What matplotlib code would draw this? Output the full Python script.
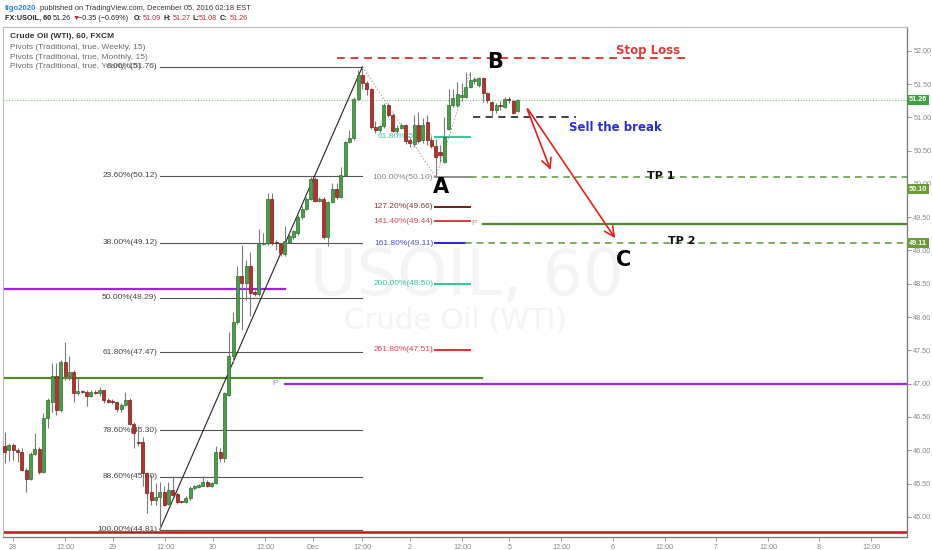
import matplotlib
matplotlib.use("Agg")
import matplotlib.pyplot as plt
import numpy as np

W, H = 932, 550

# hourly candles, FX:USOIL
OPEN = [
    46.06, 46.00, 46.08, 46.01, 45.98, 45.71, 45.57, 45.95, 46.02, 45.67,
    46.48, 46.73, 47.11, 46.61, 47.33, 47.11, 47.18, 46.86, 46.89, 46.88,
    46.82, 46.88, 46.86, 46.90, 46.76, 46.74, 46.73, 46.62, 46.68, 46.76,
    46.39, 46.13, 46.12, 45.66, 45.38, 45.25, 45.30, 45.38, 45.20, 45.40,
    45.34, 45.23, 45.23, 45.28, 45.43, 45.45, 45.47, 45.53, 45.46, 45.51,
    45.97, 45.88, 46.83, 47.41, 47.93, 48.62, 48.51, 48.76, 48.37, 48.34,
    49.10, 49.12, 49.78, 49.13, 49.10, 48.95, 49.13, 49.20, 49.27, 49.51,
    49.63, 49.78, 50.08, 49.75, 49.78, 49.21, 49.73, 49.92, 49.81, 50.13,
    50.63, 50.69, 51.28, 51.63, 51.51, 51.43, 50.86, 50.81, 50.87, 51.18,
    51.03, 50.79, 50.84, 50.88, 50.66, 50.60, 50.88, 50.66, 50.93, 50.66,
    50.57, 50.48, 50.33, 50.83, 51.18, 51.19, 51.30, 51.31, 51.46, 51.55,
    51.48, 51.59, 51.36, 51.23, 51.11, 51.19, 51.16, 51.27, 51.24, 51.09,
]
HIGH = [
    46.28, 46.11, 46.11, 46.04, 46.03, 45.73, 45.97, 46.26, 46.05, 46.56,
    46.78, 47.31, 47.31, 47.36, 47.62, 47.42, 47.21, 47.08, 46.91, 46.91,
    46.90, 46.90, 46.95, 46.91, 46.78, 46.77, 46.74, 46.71, 46.88, 46.78,
    46.42, 46.36, 46.20, 45.68, 45.63, 45.51, 45.53, 45.46, 45.53, 45.61,
    45.38, 45.24, 45.31, 45.46, 45.48, 45.50, 45.62, 45.55, 45.52, 46.06,
    46.03, 46.88, 47.78, 48.08, 48.76, 49.08, 48.86, 48.98, 48.41, 49.33,
    49.26, 49.86, 49.87, 49.16, 49.12, 49.37, 49.26, 49.31, 49.53, 49.67,
    49.81, 50.11, 50.11, 49.81, 49.81, 49.75, 50.02, 50.02, 50.26, 50.64,
    50.81, 51.30, 51.71, 51.76, 51.54, 51.44, 50.94, 50.88, 51.21, 51.21,
    51.06, 50.88, 50.91, 50.90, 50.69, 51.03, 51.08, 50.99, 51.04, 50.70,
    50.68, 50.58, 51.01, 51.43, 51.43, 51.53, 51.51, 51.68, 51.68, 51.60,
    51.61, 51.61, 51.38, 51.24, 51.21, 51.24, 51.31, 51.31, 51.26, 51.27,
]
LOW = [
    45.81, 45.84, 45.86, 45.83, 45.69, 45.37, 45.55, 45.93, 45.65, 45.66,
    46.33, 46.58, 46.53, 46.58, 47.06, 47.06, 46.73, 46.83, 46.86, 46.67,
    46.80, 46.84, 46.82, 46.71, 46.71, 46.69, 46.58, 46.58, 46.66, 46.38,
    46.03, 46.06, 45.46, 45.06, 45.18, 45.18, 44.81, 45.16, 45.18, 45.31,
    45.20, 45.21, 45.21, 45.26, 45.41, 45.44, 45.46, 45.45, 45.45, 45.50,
    45.83, 45.82, 46.81, 47.31, 47.90, 47.81, 48.26, 48.01, 48.31, 48.31,
    49.09, 49.09, 49.09, 49.01, 48.91, 48.91, 49.11, 49.17, 49.23, 49.48,
    49.61, 49.76, 49.73, 49.73, 49.18, 49.07, 49.71, 49.78, 49.79, 50.12,
    50.61, 50.66, 51.26, 51.43, 51.33, 50.82, 50.76, 50.78, 50.84, 51.01,
    50.78, 50.77, 50.82, 50.60, 50.56, 50.56, 50.62, 50.62, 50.59, 50.54,
    50.10, 50.33, 50.31, 50.81, 51.16, 51.16, 51.24, 51.29, 51.44, 51.50,
    51.46, 51.23, 51.21, 51.01, 51.06, 51.11, 51.14, 51.21, 51.05, 51.08,
]
CLOSE = [
    45.98, 46.08, 46.00, 45.98, 45.71, 45.57, 45.95, 46.02, 45.67, 46.48,
    46.75, 47.11, 46.61, 47.33, 47.11, 47.18, 46.86, 46.89, 46.88, 46.82,
    46.88, 46.86, 46.91, 46.75, 46.73, 46.72, 46.62, 46.68, 46.76, 46.39,
    46.26, 46.11, 45.66, 45.36, 45.25, 45.30, 45.38, 45.18, 45.40, 45.33,
    45.22, 45.22, 45.28, 45.43, 45.46, 45.48, 45.53, 45.46, 45.51, 45.98,
    45.88, 46.86, 47.41, 47.93, 48.62, 48.51, 48.76, 48.36, 48.34, 49.10,
    49.12, 49.78, 49.12, 49.11, 48.96, 49.15, 49.22, 49.29, 49.51, 49.63,
    49.78, 50.08, 49.75, 49.78, 49.21, 49.73, 49.92, 49.81, 50.13, 50.63,
    50.69, 51.28, 51.63, 51.51, 51.43, 50.86, 50.81, 50.87, 51.18, 51.03,
    50.79, 50.84, 50.88, 50.64, 50.62, 50.88, 50.64, 50.88, 50.66, 50.57,
    50.41, 50.43, 50.71, 51.18, 51.29, 51.35, 51.33, 51.46, 51.56, 51.58,
    51.59, 51.36, 51.26, 51.11, 51.18, 51.17, 51.28, 51.26, 51.06, 51.26,
]

# time axis (bar units)
X_TICKS = [1.9, 14.0, 25.1, 37.2, 48.3, 60.4, 71.5, 83.0, 94.0, 106.1,
           117.1, 129.1, 141.1, 153.1, 165.0, 177.1, 188.9, 201.0]
X_LABELS = ["28", "12:00", "29", "12:00", "30", "12:00", "Dec", "12:00", "2", "12:00",
            "5", "12:00", "6", "12:00", "7", "12:00", "8", "12:00"]
Y_TICKS = [45.0, 45.5, 46.0, 46.5, 47.0, 47.5, 48.0, 48.5, 49.0, 49.5, 50.0, 50.5, 51.0, 51.5, 52.0]

# fib retracement 44.81 -> 51.76
FIB1_LABELS = ["0.00%(51.76)", "23.60%(50.12)", "38.00%(49.12)", "50.00%(48.29)",
               "61.80%(47.47)", "78.60%(46.30)", "88.60%(45.60)", "100.00%(44.81)"]
FIB1_LEVELS = [51.76, 50.12, 49.12, 48.29, 47.47, 46.30, 45.60, 44.81]

# fib extension B -> A
FIB2_LABELS = ["61.80%(50.71)", "100.00%(50.10)", "127.20%(49.66)", "141.40%(49.44)",
               "161.80%(49.11)", "200.00%(48.50)", "261.80%(47.51)"]
FIB2_LEVELS = [50.71, 50.10, 49.66, 49.44, 49.11, 48.50, 47.51]
FIB2_COLORS = ["#2fc89b", "#8c8c8c", "#6b1f1f", "#e03a3a", "#2323d8", "#2fc89b", "#ee2a2a"]
FIB2_TEXT = ["#3cc8a0", "#8a8a8a", "#7a4040", "#d84a5a", "#5050d0", "#30c8a0", "#e84050"]

LAST_PRICE = 51.26
STOP_LOSS = 51.89
BREAK_LEVEL = 51.00
TP1 = 50.10
TP2 = 49.11
WEEKLY_P = 49.40
MONTHLY_P = 47.00
PIVOT_PURPLE_OLD = 48.42
PIVOT_GREEN_OLD = 47.09
YEARLY_LINE = 44.78

UP, UP_EDGE = "#46a046", "#2c6e2c"
DOWN, DOWN_EDGE = "#b8302a", "#7a1c18"
GREEN_LINE = "#4f8a2c"
DASH_GREEN = "#6aa048"
PURPLE = "#a020f0"
SMALL = ["Liberation Sans", "DejaVu Sans"]
BOLD = ["DejaVu Sans"]

plt.rcParams["font.family"] = SMALL

fig = plt.figure(figsize=(W / 100, H / 100), dpi=100)
fig.patch.set_facecolor("white")
ax = fig.add_axes([3 / W, 1 - 537 / H, 904 / W, 510 / H])
ax.set_xlim(-0.39, 209.35)
ax.set_ylim(44.698, 52.356)

o = np.array(OPEN)
h = np.array(HIGH)
l = np.array(LOW)
c = np.array(CLOSE)
idx = np.arange(len(o))
up = c >= o

# watermark
ax.text(0.513, 0.51, "USOIL, 60", transform=ax.transAxes, ha="center", va="center",
        fontsize=46, color="#f4f4f4", zorder=0, family=BOLD)
ax.text(0.5, 0.425, "Crude Oil (WTI)", transform=ax.transAxes, ha="center", va="center",
        fontsize=21, color="#f4f4f4", zorder=0, family=BOLD)

# horizontal pivots
end = ax.get_xlim()[1]
ax.axhline(LAST_PRICE, color="#7cc47c", lw=0.8, ls=(0, (1, 1.5)), zorder=1)
ax.axhline(YEARLY_LINE, color="#c01818", lw=1.8, zorder=2)
ax.plot([-0.4, 110.7], [PIVOT_GREEN_OLD] * 2, color=GREEN_LINE, lw=1.6, zorder=2)
ax.plot([-0.4, 65.0], [PIVOT_PURPLE_OLD] * 2, color=PURPLE, lw=1.6, zorder=2)
ax.plot([65.0, end], [MONTHLY_P] * 2, color=PURPLE, lw=1.6, zorder=2)
ax.text(62.7, MONTHLY_P, "P", color="#9a7ad8", fontsize=6, ha="center", va="center")
ax.plot([111.0, end], [WEEKLY_P] * 2, color=GREEN_LINE, lw=1.6, zorder=2)
ax.text(108.9, WEEKLY_P, "P", color="#999999", fontsize=6, ha="center", va="center")

# fib retracement
i_lo = int(np.argmin(l))
i_hi = int(np.argmax(h))
ax.plot([i_lo, i_hi], [l[i_lo], h[i_hi]], color="#222222", lw=0.8, zorder=3)
for lab, lev in zip(FIB1_LABELS, FIB1_LEVELS):
    ax.plot([i_lo, i_hi], [lev, lev], color="#555555", lw=0.8, zorder=2)
    ax.text(i_lo - 0.6, lev, lab, ha="right", va="center", fontsize=6, color="#444444", zorder=3)

# fib extension
i_a = 100
ax.plot([i_hi, i_a], [h[i_hi], l[i_a]], color="#999999", lw=0.6, ls=(0, (2, 2)), zorder=3)
ax.plot([i_a, 108], [l[i_a], 51.68], color="#999999", lw=0.6, ls=(0, (2, 2)), zorder=3)
for lab, lev, col, tcol in zip(FIB2_LABELS, FIB2_LEVELS, FIB2_COLORS, FIB2_TEXT):
    x_end = 106.8 if lev == TP2 else 108.0
    ax.plot([i_a - 0.2, x_end], [lev, lev], color=col, lw=1.4, zorder=2)
    ax.text(i_a - 0.6, lev, lab, ha="right", va="center", fontsize=6, color=tcol, zorder=3)

# trade plan
ax.plot([77.1, 159.0], [STOP_LOSS] * 2, color="#e53935", lw=1.4, ls=(0, (4, 3)), zorder=2)
ax.text(149.3, STOP_LOSS + 0.02, "Stop Loss", color="#e53935", fontsize=8.5,
        fontweight="bold", ha="center", va="bottom", family=BOLD)
ax.plot([108.7, 132.6], [BREAK_LEVEL] * 2, color="#333333", lw=1.3, ls=(0, (4, 3)), zorder=2)
ax.text(141.8, 50.84, "Sell the break", color="#2a2ad8", fontsize=8.5,
        fontweight="bold", ha="center", va="center", family=BOLD)
ax.plot([108.0, end], [TP1] * 2, color=DASH_GREEN, lw=1.2, ls=(0, (4, 3)), zorder=2)
ax.plot([106.8, end], [TP2] * 2, color=DASH_GREEN, lw=1.2, ls=(0, (4, 3)), zorder=2)
ax.text(152.3, TP1 + 0.02, "TP 1", color="#111111", fontsize=8, fontweight="bold",
        ha="center", va="center", family=BOLD)
ax.text(157.2, TP2 + 0.03, "TP 2", color="#111111", fontsize=8, fontweight="bold",
        ha="center", va="center", family=BOLD)
for x_end, y_end in [(126.9, 50.17), (142.0, 49.15)]:
    ax.annotate("", xy=(x_end, y_end), xytext=(121.0, 51.16),
                arrowprops=dict(arrowstyle="->,head_length=0.7,head_width=0.35",
                                color="#e02020", lw=1.2))
ax.text(101.2, 49.95, "A", fontsize=15, fontweight="bold", ha="center", va="center", family=BOLD)
ax.text(113.8, 51.83, "B", fontsize=15, fontweight="bold", ha="center", va="center", family=BOLD)
ax.text(143.7, 48.86, "C", fontsize=15, fontweight="bold", ha="center", va="center", family=BOLD)

# candles
ax.vlines(idx, l, h, color="#7a7a7a", lw=0.8, zorder=4)
bottom = np.minimum(o, c)
height = np.maximum(np.abs(c - o), 0.015)
ax.bar(idx[up], height[up], bottom=bottom[up], width=0.7, color=UP,
       edgecolor=UP_EDGE, linewidth=0.5, zorder=5)
ax.bar(idx[~up], height[~up], bottom=bottom[~up], width=0.7, color=DOWN,
       edgecolor=DOWN_EDGE, linewidth=0.5, zorder=5)

# axes
ax.yaxis.tick_right()
ax.set_yticks(Y_TICKS)
ax.set_yticklabels([f"{v:.2f}" for v in Y_TICKS])
ax.set_xticks(X_TICKS)
ax.set_xticklabels(X_LABELS)
ax.tick_params(axis="both", labelsize=5.2, colors="#888888", length=3, width=0.6, pad=2)
ax.tick_params(axis="y", pad=1.5)
for side in ["top", "left"]:
    ax.spines[side].set_color("#bbbbbb")
    ax.spines[side].set_linewidth(0.8)
for side in ["right", "bottom"]:
    ax.spines[side].set_color("#777777")
    ax.spines[side].set_linewidth(0.9)

# price labels on scale
for price, col, dy in [(LAST_PRICE, "#3fa33f", 0), (TP1, "#6a9c3a", -8.5), (TP2, "#6a9c3a", 0)]:
    ax.annotate(f"{price:.2f}", xy=(1, price), xycoords=ax.get_yaxis_transform(),
                xytext=(1.5, dy), textcoords="offset points", ha="left", va="center",
                fontsize=5.2, color="white", fontweight="bold",
                bbox=dict(boxstyle="square,pad=0.25", facecolor=col, edgecolor="none"),
                annotation_clip=False)

# legend in chart
fig.text(10 / W, 1 - 37 / H, "Crude Oil (WTI), 60, FXCM", fontsize=6, fontweight="bold",
         color="#333333", va="center")
for k, txt in enumerate(["Pivots (Traditional, true, Weekly, 15)",
                         "Pivots (Traditional, true, Monthly, 15)",
                         "Pivots (Traditional, true, Yearly, 15)"]):
    fig.text(10 / W, 1 - (47.5 + 9.7 * k) / H, txt, fontsize=6, color="#6a6a6a", va="center")

# header
fig.text(4.7 / W, 1 - 8 / H, "tigo2020", fontsize=5.6, color="#2d86c4", fontweight="bold", va="center")
fig.text(40.5 / W, 1 - 8 / H, "published on TradingView.com, December 05, 2016 02:18 EST",
         fontsize=5.4, color="#333333", va="center")
row = 1 - 18 / H
fig.text(4.7 / W, row, "FX:USOIL, 60", fontsize=5.2, fontweight="bold", color="#222222", va="center")
fig.text(52.3 / W, row, "51.26", fontsize=5.2, color="#222222", va="center")
fig.text(72.3 / W, row, "▼", fontsize=5.2, color="#cc2222", va="center")
fig.text(78.3 / W, row, "\u22120.35 (\u22120.69%)", fontsize=5.2, color="#222222", va="center")
for lab, x_lab, val, x_val in [("O:", 133.3, "51.09", 142.7), ("H:", 163.3, "51.27", 172.7),
                               ("L:", 192.7, "51.08", 199.0), ("C:", 220.0, "51.26", 229.3)]:
    fig.text(x_lab / W, row, lab, fontsize=5.2, fontweight="bold", color="#222222", va="center")
    fig.text(x_val / W, row, val, fontsize=5.2, color="#c4283c", va="center")

fig.savefig("out.png", dpi=100, facecolor="white")
